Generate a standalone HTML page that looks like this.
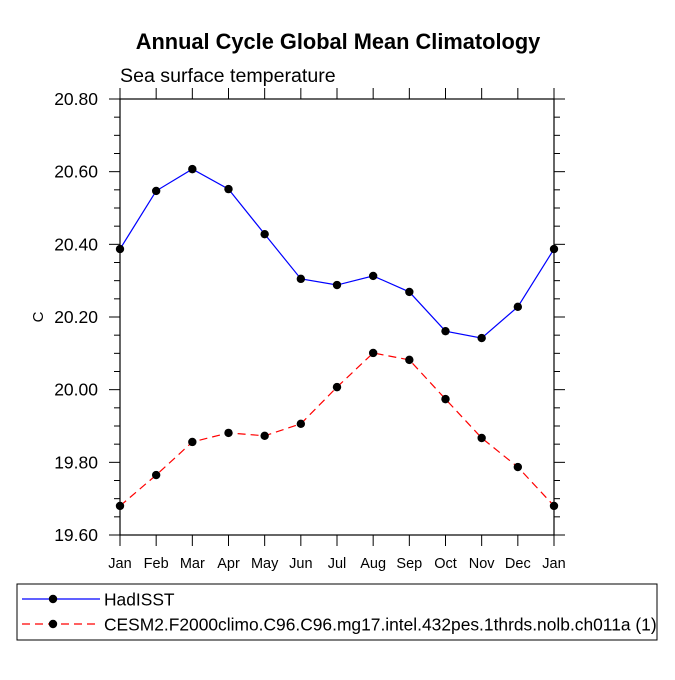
<!DOCTYPE html>
<html><head><meta charset="utf-8"><style>
body{margin:0;background:#fff;}
svg text{font-family:"Liberation Sans",Helvetica,sans-serif;}
</style></head><body>
<svg id="chart" width="675" height="675" xmlns="http://www.w3.org/2000/svg">
<text x="338" y="49" text-anchor="middle" font-size="21.8" font-weight="bold">Annual Cycle Global Mean Climatology</text>
<text x="120" y="82" font-size="19.6">Sea surface temperature</text>
<text transform="translate(43,317) rotate(-90)" text-anchor="middle" font-size="15">C</text>
<g id="axes"></g>
<g id="series"></g>
<rect x="17" y="584" width="640" height="56" fill="none" stroke="#000" stroke-width="1"/>
<g>
<line x1="22" y1="599" x2="100" y2="599" stroke="#00f" stroke-width="1.2"/>
<circle cx="53" cy="599" r="4.2" fill="#000"/>
<text x="104" y="605.5" font-size="17.4">HadISST</text>
</g>
<g>
<line x1="22" y1="624" x2="100" y2="624" stroke="#f00" stroke-width="1.2" stroke-dasharray="8,5"/>
<circle cx="53" cy="624" r="4.2" fill="#000"/>
<text x="104" y="630.5" font-size="17.4">CESM2.F2000climo.C96.C96.mg17.intel.432pes.1thrds.nolb.ch011a (1)</text>
</g>
</svg>
<script>
const months=["Jan","Feb","Mar","Apr","May","Jun","Jul","Aug","Sep","Oct","Nov","Dec","Jan"];
const hadisst=[20.387,20.547,20.607,20.552,20.428,20.305,20.288,20.313,20.269,20.161,20.142,20.228,20.387];
const cesm=[19.680,19.765,19.856,19.881,19.873,19.906,20.007,20.101,20.082,19.974,19.867,19.787,19.680];
const yTicks=[19.6,19.8,20.0,20.2,20.4,20.6,20.8];
const yTickLabels=["19.60","19.80","20.00","20.20","20.40","20.60","20.80"];
const X0=120,X1=554,Y0=535,Y1=99,YMIN=19.6,YMAX=20.8;
const xs=i=>X0+(X1-X0)*i/(months.length-1);
const ys=v=>Y0-(v-YMIN)/(YMAX-YMIN)*(Y0-Y1);
const NS="http://www.w3.org/2000/svg";
function mk(tag,attrs,parent){const e=document.createElementNS(NS,tag);for(const k in attrs)e.setAttribute(k,attrs[k]);parent.appendChild(e);return e;}
const ax=document.getElementById('axes');
const frame=mk('rect',{x:X0,y:Y1,width:X1-X0,height:Y0-Y1,fill:'none',stroke:'#000','stroke-width':1.2},ax);


yTicks.forEach((v,i)=>{
  const y=ys(v);
  mk('line',{x1:X0-11,y1:y,x2:X0,y2:y,stroke:'#000'},ax);
  mk('line',{x1:X1,y1:y,x2:X1+11,y2:y,stroke:'#000'},ax);
  const t=mk('text',{x:X0-22,y:y+6,'text-anchor':'end','font-size':17.5},ax);
  t.textContent=yTickLabels[i];
  
  
  if(i<yTicks.length-1){for(let k=1;k<4;k++){const ym=ys(v+0.05*k);
    mk('line',{x1:X0-6,y1:ym,x2:X0,y2:ym,stroke:'#000'},ax);
    mk('line',{x1:X1,y1:ym,x2:X1+6,y2:ym,stroke:'#000'},ax);}}
});
months.forEach((m,i)=>{
  const x=xs(i);
  mk('line',{x1:x,y1:Y0,x2:x,y2:Y0+11,stroke:'#000'},ax);
  mk('line',{x1:x,y1:Y1-11,x2:x,y2:Y1,stroke:'#000'},ax);
  const t=mk('text',{x:x,y:Y0+33,'text-anchor':'middle','font-size':14.5},ax);
  t.textContent=m;
  
  
});
const sg=document.getElementById('series');
function draw(vals,color,dash,name){
  const pts=vals.map((v,i)=>xs(i)+','+ys(v)).join(' ');
  const pl=mk('polyline',{points:pts,fill:'none',stroke:color,'stroke-width':1.2,'stroke-dasharray':dash},sg);
  
  
  vals.forEach((v,i)=>{const c=mk('circle',{cx:xs(i),cy:ys(v),r:4.2,fill:'#000'},sg);
    
    });
}
draw(hadisst,'#00f','none','hadisst');
draw(cesm,'#f00','8,5','cesm2');
</script>
</body></html>
